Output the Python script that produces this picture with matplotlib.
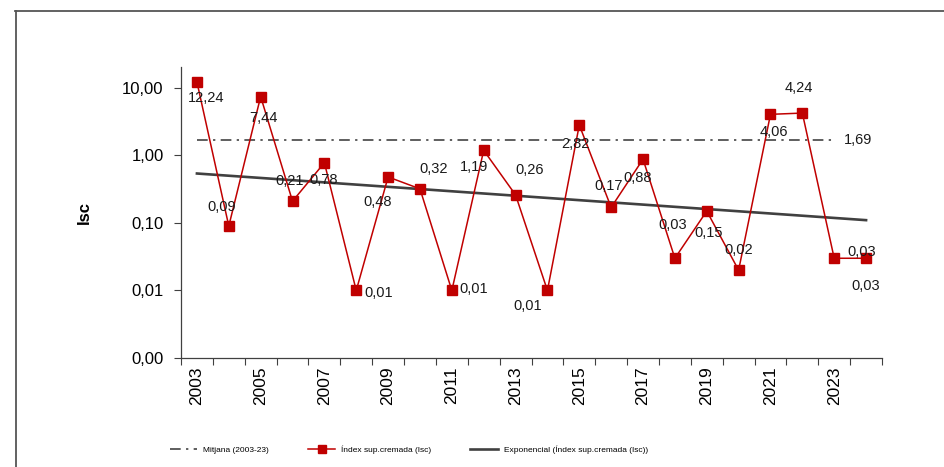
import matplotlib
matplotlib.use("Agg")
import matplotlib.pyplot as plt
from matplotlib.lines import Line2D
from matplotlib.ticker import FixedLocator, FixedFormatter, NullFormatter
import numpy as np

plt.rcParams['font.family'] = ['Liberation Sans', 'DejaVu Sans']

# ---- data ----
years = list(range(2003, 2025))
isc = [12.24, 0.09, 7.44, 0.21, 0.78, 0.01, 0.48, 0.32, 0.01, 1.19, 0.26,
       0.01, 2.82, 0.17, 0.88, 0.03, 0.15, 0.02, 4.06, 4.24, 0.03, 0.03]
isc_labels = ["12,24", "0,09", "7,44", "0,21", "0,78", "0,01", "0,48", "0,32",
              "0,01", "1,19", "0,26", "0,01", "2,82", "0,17", "0,88", "0,03",
              "0,15", "0,02", "4,06", "4,24", "0,03", "0,03"]
mean_value = 1.69
mean_label = "1,69"
mean_years = [2003, 2023]
trend_years = [2003, 2024]
trend_values = [0.54, 0.11]
ytick_values = [0.001, 0.01, 0.1, 1, 10]
ytick_labels = ["0,00", "0,01", "0,10", "1,00", "10,00"]
xtick_labels = [str(y) for y in range(2003, 2024, 2)]

# label offsets in pixels (dx, dy with dy positive = up)
label_offsets = [(9, -16), (-7, 19), (3, -21), (-3, 20), (-1, -17), (22, -3),
                 (-10, -25), (14, 20), (22, 1), (-10, -17), (14, 25), (-20, -16),
                 (-4, -19), (-3, 21), (-5, -19), (-2, 33), (2, -22), (0, 20),
                 (3, -18), (-4, 25), (27, 6), (0, -28)]

W, H = 944, 467
fig = plt.figure(figsize=(W / 100, H / 100), dpi=100)
ax = fig.add_axes([181 / W, 1 - 358 / H, (882 - 181) / W, (358 - 67) / H])

x = np.arange(len(years))
xi = lambda yr: years.index(yr)

# mean line
ax.plot([xi(mean_years[0]), xi(mean_years[1])], [mean_value, mean_value],
        color='#333333', lw=1.1, dashes=(7, 3.5, 1.5, 3.5), zorder=2,
        label='Mitjana (2003-23)')
# data series
ax.plot(x, isc, color='#C00000', lw=1.1, marker='s', markersize=6.5,
        markerfacecolor='#C00000', markeredgecolor='#C00000', zorder=3,
        label='Índex sup.cremada (Isc)')
# exponential trend
ax.plot([xi(trend_years[0]), xi(trend_years[1])], trend_values,
        color='#404040', lw=1.9, zorder=2,
        label='Exponencial (Índex sup.cremada (Isc))')

ax.set_yscale('log')
ax.set_ylim(0.001, 20.4)
ax.set_xlim(-0.5, len(years) - 0.5)

ax.yaxis.set_major_locator(FixedLocator(ytick_values))
ax.yaxis.set_major_formatter(FixedFormatter(ytick_labels))
ax.yaxis.set_minor_locator(FixedLocator([]))
ax.tick_params(axis='y', which='major', labelsize=12, length=5, width=0.8,
               color='#404040', pad=7.5)

ax.xaxis.set_major_locator(FixedLocator(np.arange(len(years) + 1) - 0.5))
ax.xaxis.set_major_formatter(NullFormatter())
ax.xaxis.set_minor_locator(FixedLocator([xi(int(t)) for t in xtick_labels]))
ax.xaxis.set_minor_formatter(FixedFormatter(xtick_labels))
ax.tick_params(axis='x', which='major', length=5, width=0.8, color='#404040')
ax.tick_params(axis='x', which='minor', length=0, labelsize=12.5, pad=6,
               labelrotation=90)

for s in ['top', 'right']:
    ax.spines[s].set_visible(False)
for s in ['left', 'bottom']:
    ax.spines[s].set_color('#404040')
    ax.spines[s].set_linewidth(0.9)

ax.set_ylabel('Isc', fontsize=12, fontweight='bold', labelpad=22)

# data labels
for i, (v, lab) in enumerate(zip(isc, isc_labels)):
    dx, dy = label_offsets[i]
    ax.annotate(lab, (x[i], v), xytext=(dx * 0.72, dy * 0.72),
                textcoords='offset points', ha='center', va='center',
                fontsize=10.5, color='#1a1a1a', zorder=4)
ax.annotate(mean_label, (xi(mean_years[1]), mean_value), xytext=(24 * 0.72, 0),
            textcoords='offset points', ha='center', va='center',
            fontsize=10.5, color='#1a1a1a')

# legend
fig.legend(loc='center left', bbox_to_anchor=(162 / W, 1 - 450 / H), ncol=3,
           frameon=False, fontsize=6.0, handlelength=3.3, handletextpad=0.7,
           columnspacing=4.7, markerscale=0.9)

# outer frame
fig.add_artist(Line2D([15 / W, 1.0], [1 - 11 / H, 1 - 11 / H],
                      transform=fig.transFigure, color='#555555', lw=1.3))
fig.add_artist(Line2D([16 / W, 16 / W], [1 - 11 / H, 0],
                      transform=fig.transFigure, color='#555555', lw=1.3))

fig.savefig('out.png', dpi=100)
